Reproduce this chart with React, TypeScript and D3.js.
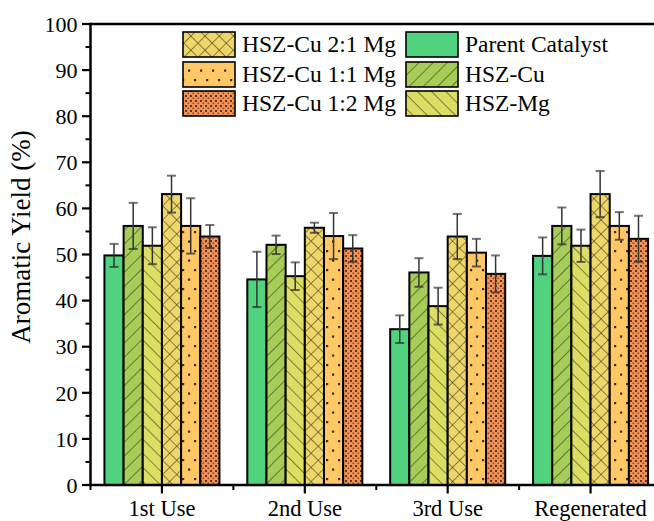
import React from "react";
import * as d3 from "d3";

// Aromatic yield of each catalyst over repeated use and after regeneration
const categories = ["1st Use", "2nd Use", "3rd Use", "Regenerated"];
const seriesNames = [
  "Parent Catalyst",
  "HSZ-Cu",
  "HSZ-Mg",
  "HSZ-Cu 2:1 Mg",
  "HSZ-Cu 1:1 Mg",
  "HSZ-Cu 1:2 Mg",
];
const parentYield = [49.8, 44.6, 33.8, 49.7];
const parentErr = [2.5, 6.0, 3.0, 4.0];
const cuYield = [56.2, 52.1, 46.1, 56.2];
const cuErr = [5.0, 2.0, 3.1, 4.0];
const mgYield = [51.9, 45.3, 38.8, 51.9];
const mgErr = [4.0, 3.0, 4.0, 3.5];
const cu21Yield = [63.1, 55.8, 53.9, 63.1];
const cu21Err = [4.0, 1.1, 4.9, 5.0];
const cu11Yield = [56.2, 54.0, 50.4, 56.2];
const cu11Err = [6.0, 5.0, 3.0, 3.0];
const cu12Yield = [53.9, 51.3, 45.8, 53.4];
const cu12Err = [2.5, 2.9, 4.0, 5.0];
const yTicks = [0, 10, 20, 30, 40, 50, 60, 70, 80, 90, 100];

const seriesValues = [parentYield, cuYield, mgYield, cu21Yield, cu11Yield, cu12Yield];
const seriesErrors = [parentErr, cuErr, mgErr, cu21Err, cu11Err, cu12Err];
const fills = [
  "#50D27E",
  "url(#pat-cu)",
  "url(#pat-mg)",
  "url(#pat-cu21)",
  "url(#pat-cu11)",
  "url(#pat-cu12)",
];

const FONT = "'Liberation Serif', 'Times New Roman', serif";

export default function App() {
  const left = 90.5;
  const top = 24;
  const bottom = 485;
  const right = 662;

  const x = d3.scaleLinear().domain([0.5, categories.length + 0.5]).range([left, right]);
  const y = d3.scaleLinear().domain([0, 100]).range([bottom, top]);
  const step = x(1) - x(0);
  const groupW = step * 0.805;
  const inner = d3
    .scaleBand<number>()
    .domain(d3.range(seriesNames.length))
    .range([-groupW / 2, groupW / 2])
    .padding(0);
  const bw = inner.bandwidth();

  const minorY = d3.range(5, 100, 10);
  const minorX = d3.range(0.5, categories.length + 0.51, 1);

  const legendCol1 = [3, 4, 5];
  const legendCol2 = [0, 1, 2];
  const rowTops = [32, 62, 91];

  const swatch = (idx: number, sx: number, sy: number) => (
    <g key={"lg" + idx}>
      <rect x={sx} y={sy} width={52} height={25} fill={fills[idx]} stroke="#000" strokeWidth={1.6} />
      <text x={sx + 59} y={sy + 20} fontSize={23.5} fontFamily={FONT} fill="#000">
        {seriesNames[idx]}
      </text>
    </g>
  );

  return (
    <div style={{ position: "fixed", left: 0, top: 0 }}>
      <svg width={654} height={521} style={{ display: "block", background: "#fff" }}>
        <defs>
          <pattern id="pat-cu" patternUnits="userSpaceOnUse" width={10} height={10} patternTransform="rotate(45)">
            <rect width={10} height={10} fill="#A8CC58" />
            <line x1={0} y1={0} x2={0} y2={10} stroke="#2a3010" strokeWidth={1.1} />
          </pattern>
          <pattern id="pat-mg" patternUnits="userSpaceOnUse" width={10} height={10} patternTransform="rotate(-45)">
            <rect width={10} height={10} fill="#DCDE64" />
            <line x1={0} y1={0} x2={0} y2={10} stroke="#303010" strokeWidth={1.1} />
          </pattern>
          <pattern id="pat-cu21" patternUnits="userSpaceOnUse" width={10} height={10} patternTransform="rotate(45)">
            <rect width={10} height={10} fill="#EED76A" />
            <line x1={0} y1={0} x2={0} y2={10} stroke="#3a3010" strokeWidth={1.1} />
            <line x1={0} y1={0} x2={10} y2={0} stroke="#3a3010" strokeWidth={1.1} />
          </pattern>
          <pattern id="pat-cu11" patternUnits="userSpaceOnUse" width={12} height={19}>
            <rect width={12} height={19} fill="#FFC864" />
            <rect x={2} y={3} width={2.2} height={2.2} fill="#3a2a10" />
            <rect x={8} y={12.5} width={2.2} height={2.2} fill="#3a2a10" />
          </pattern>
          <pattern id="pat-cu12" patternUnits="userSpaceOnUse" width={5} height={5}>
            <rect width={5} height={5} fill="#EE9458" />
            <rect x={0} y={0} width={2} height={2} fill="#6a3212" />
            <rect x={2.5} y={2.5} width={1.6} height={1.6} fill="#9a4a20" />
          </pattern>
        </defs>

        {/* bars */}
        {seriesValues.map((vals, s) =>
          vals.map((v, c) => (
            <rect
              key={`b${s}-${c}`}
              x={x(c + 1) + (inner(s) as number)}
              y={y(v)}
              width={bw}
              height={y(0) - y(v)}
              fill={fills[s]}
              stroke="#000"
              strokeWidth={2}
            />
          ))
        )}

        {/* error bars */}
        {seriesValues.map((vals, s) =>
          vals.map((v, c) => {
            const cx = x(c + 1) + (inner(s) as number) + bw / 2;
            const e = seriesErrors[s][c];
            return (
              <g key={`e${s}-${c}`}>
                <line x1={cx} x2={cx} y1={y(v + e)} y2={y(v - e)} stroke="#333" strokeWidth={1.5} />
                <line x1={cx - 4.5} x2={cx + 4.5} y1={y(v + e)} y2={y(v + e)} stroke="#444" strokeOpacity={0.75} strokeWidth={2} />
                <line x1={cx - 4.5} x2={cx + 4.5} y1={y(v - e)} y2={y(v - e)} stroke="#333" strokeOpacity={0.75} strokeWidth={2} />
              </g>
            );
          })
        )}

        {/* axes frame */}
        <line x1={left} x2={700} y1={top} y2={top} stroke="#000" strokeWidth={2.5} />
        <line x1={left} x2={left} y1={top - 1.2} y2={bottom + 1.2} stroke="#000" strokeWidth={2.5} />
        <line x1={left - 1.2} x2={700} y1={bottom} y2={bottom} stroke="#000" strokeWidth={2.5} />

        {/* y ticks */}
        {yTicks.map((t) => (
          <g key={"yt" + t}>
            <line x1={left - 8.5} x2={left} y1={y(t)} y2={y(t)} stroke="#000" strokeWidth={2.2} />
            <text x={left - 13} y={y(t)} dy="0.35em" textAnchor="end" fontSize={22} fontFamily={FONT} fill="#000">
              {t}
            </text>
          </g>
        ))}
        {minorY.map((t) => (
          <line key={"ym" + t} x1={left - 5} x2={left} y1={y(t)} y2={y(t)} stroke="#000" strokeWidth={2} />
        ))}

        {/* x ticks */}
        {categories.map((cat, i) => (
          <g key={"xt" + cat}>
            <line x1={x(i + 1)} x2={x(i + 1)} y1={bottom} y2={bottom + 8.5} stroke="#000" strokeWidth={2.2} />
            <text x={x(i + 1)} y={bottom + 30.5} textAnchor="middle" fontSize={22.5} fontFamily={FONT} fill="#000">
              {cat}
            </text>
          </g>
        ))}
        {minorX.map((t) => (
          <line key={"xm" + t} x1={x(t)} x2={x(t)} y1={bottom} y2={bottom + 5} stroke="#000" strokeWidth={2} />
        ))}

        {/* y axis title */}
        <text
          transform={`translate(30, ${237}) rotate(-90)`}
          textAnchor="middle"
          fontSize={27}
          fontFamily={FONT}
          fill="#000"
        >
          Aromatic Yield (%)
        </text>

        {/* legend */}
        {legendCol1.map((idx, r) => swatch(idx, 183, rowTops[r]))}
        {legendCol2.map((idx, r) => swatch(idx, 406, rowTops[r]))}
      </svg>
    </div>
  );
}
